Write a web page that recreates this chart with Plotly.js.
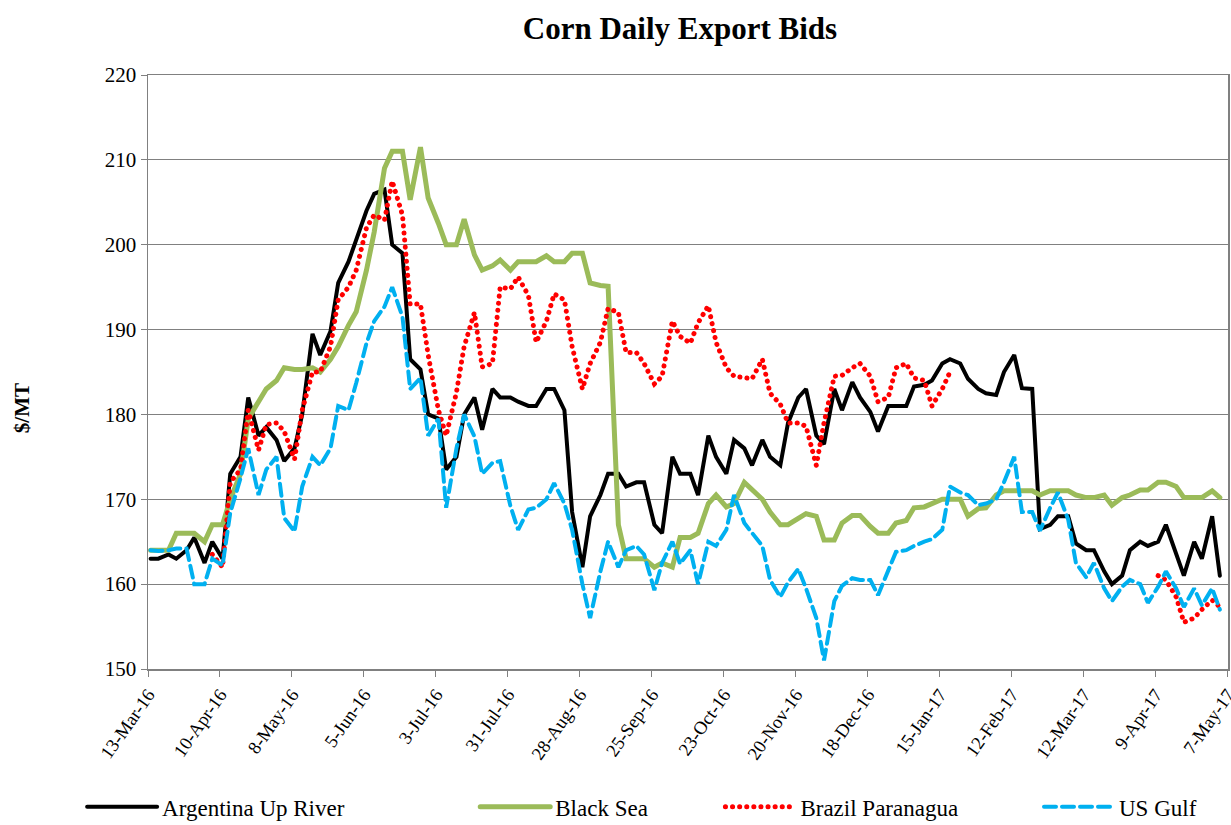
<!DOCTYPE html>
<html>
<head>
<meta charset="utf-8">
<script src="https://cdn.plot.ly/plotly-3.0.1.min.js"></script>
<style>
  html, body { margin: 0; padding: 0; background: #fff; }
  #chart { width: 1231px; height: 825px; }
  .js-line { stroke-linecap: round; }
</style>
</head>
<body>
<div id="chart"></div>
<script>
// Dates (Mondays and Thursdays)
const dates = [
 "2016-03-14","2016-03-17","2016-03-21","2016-03-24","2016-03-28","2016-03-31","2016-04-04","2016-04-07",
 "2016-04-11","2016-04-14","2016-04-18","2016-04-21","2016-04-25","2016-04-28","2016-05-02","2016-05-05",
 "2016-05-09","2016-05-12","2016-05-16","2016-05-19","2016-05-23","2016-05-26","2016-05-30","2016-06-02",
 "2016-06-06","2016-06-09","2016-06-13","2016-06-16","2016-06-20","2016-06-23","2016-06-27","2016-06-30",
 "2016-07-04","2016-07-07","2016-07-11","2016-07-14","2016-07-18","2016-07-21","2016-07-25","2016-07-28",
 "2016-08-01","2016-08-04","2016-08-08","2016-08-11","2016-08-15","2016-08-18","2016-08-22","2016-08-25",
 "2016-08-29","2016-09-01","2016-09-05","2016-09-08","2016-09-12","2016-09-15","2016-09-19","2016-09-22",
 "2016-09-26","2016-09-29","2016-10-03","2016-10-06","2016-10-10","2016-10-13","2016-10-17","2016-10-20",
 "2016-10-24","2016-10-27","2016-10-31","2016-11-03","2016-11-07","2016-11-10","2016-11-14","2016-11-17",
 "2016-11-21","2016-11-24","2016-11-28","2016-12-01","2016-12-05","2016-12-08","2016-12-12","2016-12-15",
 "2016-12-19","2016-12-22","2016-12-26","2016-12-29","2017-01-02","2017-01-05","2017-01-09","2017-01-12",
 "2017-01-16","2017-01-19","2017-01-23","2017-01-26","2017-01-30","2017-02-02","2017-02-06","2017-02-09",
 "2017-02-13","2017-02-16","2017-02-20","2017-02-23","2017-02-27","2017-03-02","2017-03-06","2017-03-09",
 "2017-03-13","2017-03-16","2017-03-20","2017-03-23","2017-03-27","2017-03-30","2017-04-03","2017-04-06",
 "2017-04-10","2017-04-13","2017-04-17","2017-04-20","2017-04-24","2017-04-27","2017-05-01","2017-05-04"
];

const argentinaUpRiver = [
 163,163, 163.5,163, 164,165.5, 162.5,165, 163,173, 175,182, 177.5,178.5, 177,174.5,
 176,180, 189.5,187, 189.8,195.5, 198,200.5, 204,206, 206.5,200, 199,186.5, 185.3,180,
 179.5,173.5, 175,180, 182,178.2, 183,182, 182,181.5, 181,181, 183,183, 180.5,168.5,
 162,168, 170.5,173, 173,171.5, 172,172, 167,166, 175,173, 173,170.5, 177.5,175,
 173,177, 176,174, 177,175, 174,179, 182,183, 177.5,176.5, 183,180.5, 183.8,182,
 180.3,178, 181,181, 181,183.3, 183.5,184, 186,186.5, 186,184.2, 183,182.5, 182.3,185,
 187,183.1, 183,166.5, 167,168, 168,164.8, 164,164, 161.5,160, 161,164, 165,164.5,
 165,167, 163.5,161, 165,163, 168,161
];

const blackSea = [
 164,164, 164,166, 166,166, 165,167, 167,170, 173,179.5, 181.5,183, 184,185.5,
 185.3,185.3, 185.5,185, 186.5,188, 190.5,192.1, 197,201.5, 209,211, 211,205.3, 211.5,205.5,
 202.5,200, 200,203, 198.8,197, 197.5,198.2, 197,198, 198,198, 198.7,198, 198,199,
 199,195.5, 195.2,195.1, 167,163, 163,163, 162,162.5, 162,165.5, 165.5,166, 169.5,170.5,
 169.1,169.5, 172,171.1, 170,168.5, 167,167, 167.8,168.3, 168,165.2, 165.2,167.2, 168.1,168.1,
 166.8,166, 166,167.2, 167.5,169, 169.1,169.5, 170,170, 170,168, 168.9,169, 170.5,171,
 171,171, 171,170.5, 171,171, 171,170.5, 170.2,170.2, 170.5,169.3, 170.2,170.5, 171.1,171.1,
 172,172, 171.5,170.2, 170.2,170.2, 171,170.2
];

const brazilParanagua = [
 null,null, null,null, null,null, null,163.5, 162,172, 173.5,180.5, 175.8,178.8, 179,178,
 174.7,180.5, 185,185, 188,193.5, 195,197, 202,203.5, 202.9,207.5, 203.5,193, 193,187,
 180.5,177.5, 182.6,188, 192,185.6, 186,195, 194.8,196.2, 194,188.5, 191,194.2, 193.5,188,
 183,186, 188.5,192.5, 192,187.3, 187.3,186, 183.6,184.5, 191,189.2, 188.4,190.8, 192.8,188.5,
 185.5,184.5, 184.3,184.2, 186.5,182.5, 181.2,179, 179,178.6, 174,179, 184.5,184.6, 185.5,186,
 184.5,181.5, 182,185.5, 186,184.3, 184,181, 183,185, null,null, null,null, null,null,
 null,null, null,null, null,null, null,null, null,null, null,null, null,null, null,null,
 161,160.5, 158.5,155.5, 156,157, 158.1,157.3
];

const usGulf = [
 164,163.9, 164,164.2, 164.2,160, 160,163, 162.2,168.4, 172.5,176, 170.5,173.5, 175,167.8,
 166.2,171.5, 175,174, 176,181, 180.5,183.7, 188.4,191, 192.7,195, 191.5,183, 184.3,177.5,
 179.5,169, 176,180, 177.4,173, 174.3,174.5, 169.2,166.4, 168.8,169, 170,171.9, 169.5,166.4,
 160,156, 161.5,165, 162,164, 164.5,163.5, 159.3,162.5, 165,162.4, 164,160, 165,164.5,
 166.4,170.5, 167.2,166, 164.5,160.5, 158.5,160.2, 161.8,159.5, 156,151, 158,159.8, 160.7,160.5,
 160.5,158.7, 161.5,163.8, 164,164.5, 165,165.3, 166.4,171.5, 170.8,170.5, 169.3,169.5, 170,172,
 175,168.5, 168.5,166.3, 169,170.8, 167.6,162.5, 160.8,162.5, 159.5,158, 159.7,160.5, 160,157.8,
 159.7,161.5, 159.5,157.3, 159.5,157.5, 159.5,157
];

const seriesNames = ["Argentina Up River", "Black Sea", "Brazil Paranagua", "US Gulf"];
const seriesColors = ["#000000", "#9BBB59", "#FF0000", "#00B0F0"];
const yAxisLabel = "$/MT";

const FONT = "'Liberation Serif', 'Times New Roman', serif";

const traces = [
  {x: dates, y: argentinaUpRiver, name: seriesNames[0], type: "scatter", mode: "lines",
   line: {color: seriesColors[0], width: 4}, legend: "legend"},
  {x: dates, y: blackSea, name: seriesNames[1], type: "scatter", mode: "lines",
   line: {color: seriesColors[1], width: 5}, legend: "legend2"},
  {x: dates, y: brazilParanagua, name: seriesNames[2], type: "scatter", mode: "lines",
   line: {color: seriesColors[2], width: 5, dash: "0.1px,7px"}, connectgaps: false, legend: "legend3"},
  {x: dates, y: usGulf, name: seriesNames[3], type: "scatter", mode: "lines",
   line: {color: seriesColors[3], width: 4, dash: "12px,6px"}, legend: "legend4"}
];

const legendBase = {
  orientation: "h", yanchor: "middle", y: -0.232, xanchor: "left",
  font: {family: FONT, size: 23, color: "#000"}, bgcolor: "rgba(0,0,0,0)", itemwidth: 70
};

const layout = {
  width: 1231, height: 825,
  margin: {l: 148, r: 3, t: 75, b: 156, autoexpand: false},
  paper_bgcolor: "#ffffff", plot_bgcolor: "#ffffff",
  font: {family: FONT, color: "#000"},
  title: {text: "<b>Corn Daily Export Bids</b>", font: {family: FONT, size: 31, color: "#000"},
          x: 0.4926, xref: "paper", xanchor: "center", y: 0.966, yref: "container", yanchor: "middle"},
  xaxis: {
    type: "date",
    range: ["2016-03-13", "2017-05-07 04:00"],
    tick0: "2016-03-13", dtick: 28 * 86400000,
    tickformat: "%-d-%b-%y", tickangle: -55,
    tickfont: {family: FONT, size: 18.5, color: "#000"},
    ticklabeloverflow: "allow",
    ticks: "outside", ticklen: 6, tickcolor: "#808080",
    showgrid: false, showline: true, linecolor: "#808080", linewidth: 1.5, mirror: true,
    zeroline: false, fixedrange: true
  },
  yaxis: {
    range: [150, 220], dtick: 10,
    tickfont: {family: FONT, size: 21, color: "#000"},
    ticks: "outside", ticklen: 6, tickcolor: "#808080",
    showgrid: true, gridcolor: "#808080", gridwidth: 1.2,
    showline: true, linecolor: "#808080", linewidth: 1.5, mirror: true,
    zeroline: false, fixedrange: true
  },
  annotations: [{
    text: "<b>" + yAxisLabel + "</b>", textangle: -90, showarrow: false,
    xref: "paper", yref: "paper", x: -0.1167, y: 0.439, xanchor: "center", yanchor: "middle",
    font: {family: FONT, size: 21, color: "#000"}
  }],
  showlegend: true,
  legend: Object.assign({}, legendBase, {x: -0.061}),
  legend2: Object.assign({}, legendBase, {x: 0.303}),
  legend3: Object.assign({}, legendBase, {x: 0.530}),
  legend4: Object.assign({}, legendBase, {x: 0.825})
};

Plotly.newPlot("chart", traces, layout, {staticPlot: true, displayModeBar: false});
</script>
</body>
</html>
